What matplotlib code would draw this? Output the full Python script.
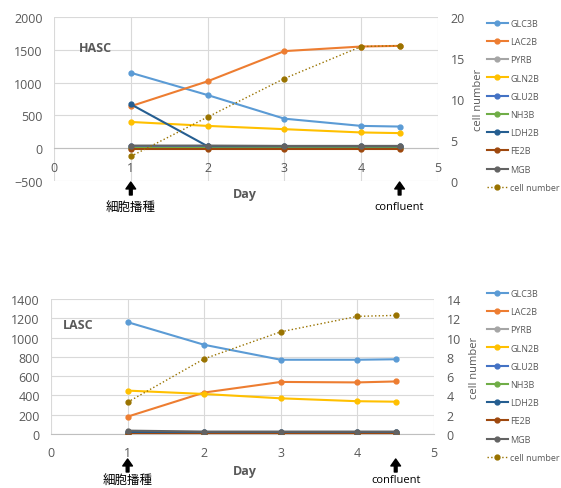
import numpy as np
import matplotlib.pyplot as plt

plt.rcParams['font.family'] = ['Open Sans', 'Noto Sans CJK JP', 'DejaVu Sans']

# days of sampling
days = [1, 2, 3, 4, 4.5]
labels = ['GLC3B', 'LAC2B', 'PYRB', 'GLN2B', 'GLU2B', 'NH3B', 'LDH2B', 'FE2B', 'MGB']
colors = ['#5B9BD5', '#ED7D31', '#A5A5A5', '#FFC000', '#4472C4',
          '#70AD47', '#255E91', '#9E480E', '#636363']
cell_color = '#997300'

# HASC
hasc = {
    'GLC3B': [1150, 810, 450, 340, 330],
    'LAC2B': [640, 1020, 1480, 1550, 1560],
    'PYRB': [20, 25, 20, 20, 20],
    'GLN2B': [400, 340, 290, 240, 230],
    'GLU2B': [30, 30, 25, 25, 25],
    'NH3B': [10, 10, 10, 10, 10],
    'LDH2B': [670, 30, 30, 30, 30],
    'FE2B': [-5, -5, -5, -5, -5],
    'MGB': [40, 40, 35, 35, 35],
}
hasc_cells = [3.0, 7.8, 12.5, 16.4, 16.5]

# LASC
lasc = {
    'GLC3B': [1160, 925, 770, 770, 775],
    'LAC2B': [180, 430, 540, 535, 545],
    'PYRB': [25, 20, 20, 20, 20],
    'GLN2B': [450, 415, 370, 340, 335],
    'GLU2B': [15, 15, 15, 15, 15],
    'NH3B': [5, 5, 5, 5, 5],
    'LDH2B': [20, 20, 20, 20, 20],
    'FE2B': [0, 0, 0, 0, 0],
    'MGB': [35, 25, 25, 25, 25],
}
lasc_cells = [3.3, 7.8, 10.6, 12.2, 12.3]

W, H = 561, 489
fig = plt.figure(figsize=(W / 100, H / 100), dpi=100)
gray = '#595959'
grid = '#D9D9D9'


def box(x0, y0, x1, y1):
    return [x0 / W, 1 - y1 / H, (x1 - x0) / W, (y1 - y0) / H]


def panel(rect, data, cells, ylim, ystep, rlim, rstep, name, name_xy,
          day_y, arrow_y, note_y, leg_y):
    ax = fig.add_axes(box(*rect))
    ax2 = ax.twinx()
    handles = []
    for lab, c in zip(labels, colors):
        ln, = ax.plot(days, data[lab], color=c, lw=1.5, marker='o', ms=3.5, label=lab, zorder=3)
        handles.append(ln)
    ln, = ax2.plot(days, cells, color=cell_color, lw=1, ls=':', marker='o', ms=3.5,
                   label='cell number')
    handles.append(ln)

    ax.set_xlim(0, 5)
    ax.set_ylim(*ylim)
    ax.set_yticks(np.arange(ylim[0], ylim[1] + 1, ystep))
    ax.set_xticks(range(6))
    ax2.set_ylim(*rlim)
    ax2.set_yticks(np.arange(rlim[0], rlim[1] + 0.1, rstep))
    ax.grid(True, color=grid, lw=0.8)
    ax.set_axisbelow(True)
    for a in (ax, ax2):
        for s in a.spines.values():
            s.set_visible(False)
        a.tick_params(length=0, labelsize=9, labelcolor=gray)
    ax.spines['bottom'].set_visible(True)
    ax.spines['bottom'].set_position(('data', 0))
    ax.spines['bottom'].set_color('#BFBFBF')
    ax.tick_params(axis='x', pad=9)
    ax.tick_params(axis='y', pad=8)
    ax2.tick_params(axis='y', pad=9)
    ax2.set_ylabel('cell number', color=gray, fontsize=8, labelpad=6)

    ax.text(name_xy[0], name_xy[1], name, transform=ax.transData,
            fontsize=9, fontweight='bold', color=gray)
    fig.text(245 / W, 1 - day_y / H, 'Day', fontsize=9, fontweight='bold',
             color=gray, ha='center', va='center')

    for xd, txt, fs in [(1, '細胞播種', 9), (4.5, 'confluent', 8)]:
        xp = (rect[0] + xd / 5 * (rect[2] - rect[0])) / W
        ax.annotate('', xy=(xp, 1 - arrow_y[1] / H), xytext=(xp, 1 - arrow_y[0] / H),
                    xycoords='figure fraction', textcoords='figure fraction',
                    arrowprops=dict(facecolor='black', edgecolor='black', width=2,
                                    headwidth=7, headlength=5, shrink=0))
        fig.text(xp, 1 - note_y / H, txt, fontsize=fs, ha='center', va='center')

    fig.legend(handles=handles, loc='upper left',
               bbox_to_anchor=(487 / W, 1 - leg_y / H), frameon=False,
               fontsize=6.5, labelcolor=gray, handlelength=2.3, handletextpad=0.3,
               labelspacing=1.02, borderaxespad=0, borderpad=0)


panel((54, 18, 438, 182), hasc, hasc_cells, (-500, 2000), 500, (0, 20), 5,
      'HASC', (0.33, 1480), 195, (196, 183), 208, 20)
panel((51, 300, 434, 435), lasc, lasc_cells, (0, 1400), 200, (0, 14), 2,
      'LASC', (0.15, 1100), 472, (473, 460), 481, 290)

fig.savefig('out.png', dpi=100)
